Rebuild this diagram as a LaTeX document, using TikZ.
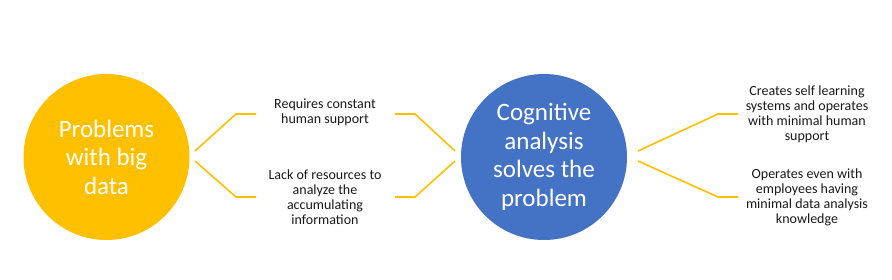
\documentclass[tikz,border=0pt]{standalone}
\usepackage{fontspec}
\setmainfont{Carlito}
\definecolor{cyellow}{HTML}{FFC000}
\definecolor{cblue}{HTML}{4472C4}
\begin{document}
\begin{tikzpicture}[x=1pt,y=-1pt,
  bigcircle/.style={circle,minimum size=166pt,inner sep=0pt,text=white,align=center,font=\fontsize{25}{28.5}\selectfont},
  lbl/.style={align=center,font=\fontsize{14}{15}\selectfont,text=black!90,inner sep=0pt},
  conn/.style={draw=cyellow,line width=1.6pt}]
\useasboundingbox (0,0) rectangle (892,279);
\node[bigcircle,fill=cyellow] (p) at (106.5,157) {Problems\\with big\\data};
\node[bigcircle,fill=cblue] (c) at (544,157) {Cognitive\\analysis\\solves the\\problem};
\node[lbl] (t1) at (325,112) {Requires constant\\human support};
\node[lbl] (t2) at (325,197.5) {Lack of resources to\\analyze the\\accumulating\\information};
\node[lbl] (t3) at (807,114.5) {Creates self learning\\systems and operates\\with minimal human\\support};
\node[lbl] (t4) at (807,197) {Operates even with\\employees having\\minimal data analysis\\knowledge};
\coordinate (a1) at (195,151); \coordinate (a2) at (236,114); \coordinate (a3) at (256,114);
\coordinate (b1) at (195,161); \coordinate (b2) at (236,197); \coordinate (b3) at (256,197);
\coordinate (c1) at (395,114); \coordinate (c2) at (415,114); \coordinate (c3) at (455,151);
\coordinate (d1) at (395,197); \coordinate (d2) at (415,197); \coordinate (d3) at (455,161);
\coordinate (e1) at (638,151); \coordinate (e2) at (718,114); \coordinate (e3) at (738,114);
\coordinate (f1) at (638,161); \coordinate (f2) at (718,197); \coordinate (f3) at (738,197);
\draw[conn] (a1) -- (a2) -- (a3);
\draw[conn] (b1) -- (b2) -- (b3);
\draw[conn] (c1) -- (c2) -- (c3);
\draw[conn] (d1) -- (d2) -- (d3);
\draw[conn] (e1) -- (e2) -- (e3);
\draw[conn] (f1) -- (f2) -- (f3);
\end{tikzpicture}
\end{document}
